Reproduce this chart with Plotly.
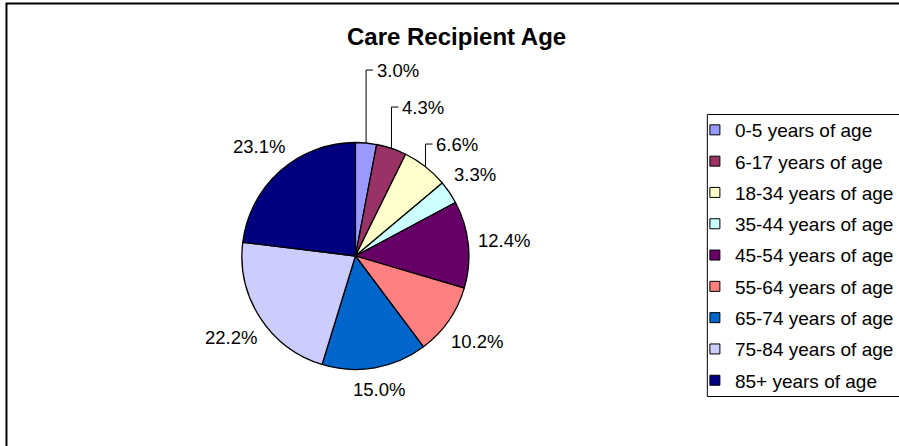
import math
import plotly.graph_objects as go

categories = ["0-5 years of age", "6-17 years of age", "18-34 years of age",
              "35-44 years of age", "45-54 years of age", "55-64 years of age",
              "65-74 years of age", "75-84 years of age", "85+ years of age"]
values = [3.0, 4.3, 6.6, 3.3, 12.4, 10.2, 15.0, 22.2, 23.1]
colors = ["#9999FF", "#993366", "#FFFFCC", "#CCFFFF", "#660066",
          "#FF8080", "#0066CC", "#CCCCFF", "#000080"]
title_text = "Care Recipient Age"

# style: which slice labels are pulled out with leader lines
leader = [True, True, True, False, False, False, False, False, False]

W, H = 899, 446
cx, cy, r = 357, 256, 114
FONT = "Liberation Sans, Arial, sans-serif"
LBL_FS = 18.5
LEG_FS = 19

def px(x):
    return x / W

def py(y):
    return 1 - y / H

fig = go.Figure()
fig.add_trace(go.Pie(
    labels=categories, values=values, sort=False, direction="clockwise",
    rotation=0, marker=dict(colors=colors, line=dict(color="black", width=1.3)),
    textinfo="none", showlegend=False, hoverinfo="label+value",
    domain=dict(x=[px(cx - r), px(cx + r)], y=[py(cy + r), py(cy - r)]),
))

# data labels positioned from each slice's mid angle
CW = {"0": .556, "1": .556, "2": .556, "3": .556, "4": .556, "5": .556,
      "6": .556, "7": .556, "8": .556, "9": .556, ".": .278, "%": .889}
total = sum(values)
cum = 0.0
placed = []
for i, v in enumerate(values):
    mid = (cum + v / 2) / total * 2 * math.pi
    cum += v
    ux, uy = math.sin(mid), math.cos(mid)  # uy positive = up
    txt = "%.1f%%" % v
    w = sum(CW[c] for c in txt) * LBL_FS
    h = 16
    ext = abs(ux) * w / 2 + abs(uy) * h / 2
    d = r + 9 + ext
    lx, ly = cx + ux * d, cy - uy * d
    ex, ey = cx + ux * r, cy - uy * r
    placed.append(dict(txt=txt, lx=lx, ly=ly, ex=ex, ey=ey))

# stack leader labels upward from the lowest one
lead_idx = [i for i, f in enumerate(leader) if f]
prev_y = None
for i in reversed(lead_idx):
    p = placed[i]
    y = p["ly"] if prev_y is None else min(p["ly"], prev_y - 37)
    prev_y = y
    p["ly"] = y
    fig.add_shape(type="path", xref="paper", yref="paper",
                  path="M %f %f L %f %f L %f %f" % (
                      px(p["ex"]), py(p["ey"]), px(p["ex"]), py(y),
                      px(p["ex"] + 7), py(y)),
                  line=dict(color="black", width=1))
    fig.add_annotation(text=p["txt"], xref="paper", yref="paper",
                       x=px(p["ex"] + 9), y=py(y), xanchor="left",
                       yanchor="middle", showarrow=False,
                       font=dict(family=FONT, size=LBL_FS, color="black"))

for i, p in enumerate(placed):
    if leader[i]:
        continue
    fig.add_annotation(text=p["txt"], xref="paper", yref="paper",
                       x=px(p["lx"]), y=py(p["ly"]), xanchor="center",
                       yanchor="middle", showarrow=False,
                       font=dict(family=FONT, size=LBL_FS, color="black"))

for cat, col in zip(categories, colors):
    fig.add_trace(go.Scatter(
        x=[None], y=[None], mode="markers", name=cat, legendgroup=cat,
        marker=dict(symbol="square", size=10, color=col,
                    line=dict(color="black", width=1)),
        showlegend=True, hoverinfo="skip",
    ))

fig.add_shape(type="rect", xref="paper", yref="paper",
              x0=px(6.5), x1=1.05, y0=-0.05, y1=py(3.5),
              line=dict(color="black", width=2), fillcolor="rgba(0,0,0,0)")
fig.add_shape(type="rect", xref="paper", yref="paper",
              x0=px(710.5), x1=1.05, y0=py(396.5), y1=py(114.5),
              line=dict(color="black", width=1), fillcolor="rgba(0,0,0,0)")

fig.add_annotation(text="<b>%s</b>" % title_text, xref="paper", yref="paper",
                   x=px(458.5), y=py(36), xanchor="center", yanchor="middle",
                   showarrow=False, font=dict(family=FONT, size=24, color="black"))

fig.update_layout(
    width=W, height=H, margin=dict(l=0, r=0, t=0, b=0),
    paper_bgcolor="white", plot_bgcolor="white",
    xaxis=dict(visible=False), yaxis=dict(visible=False),
    legend=dict(x=px(698), y=py(111), xanchor="left", yanchor="top",
                font=dict(family=FONT, size=LEG_FS, color="black"),
                tracegroupgap=3.6, bgcolor="rgba(0,0,0,0)", borderwidth=0,
                itemclick=False, itemdoubleclick=False),
    font=dict(family=FONT),
)

fig.write_html("out.html", config={"displayModeBar": False},
               post_script="document.body.style.margin='0';")
